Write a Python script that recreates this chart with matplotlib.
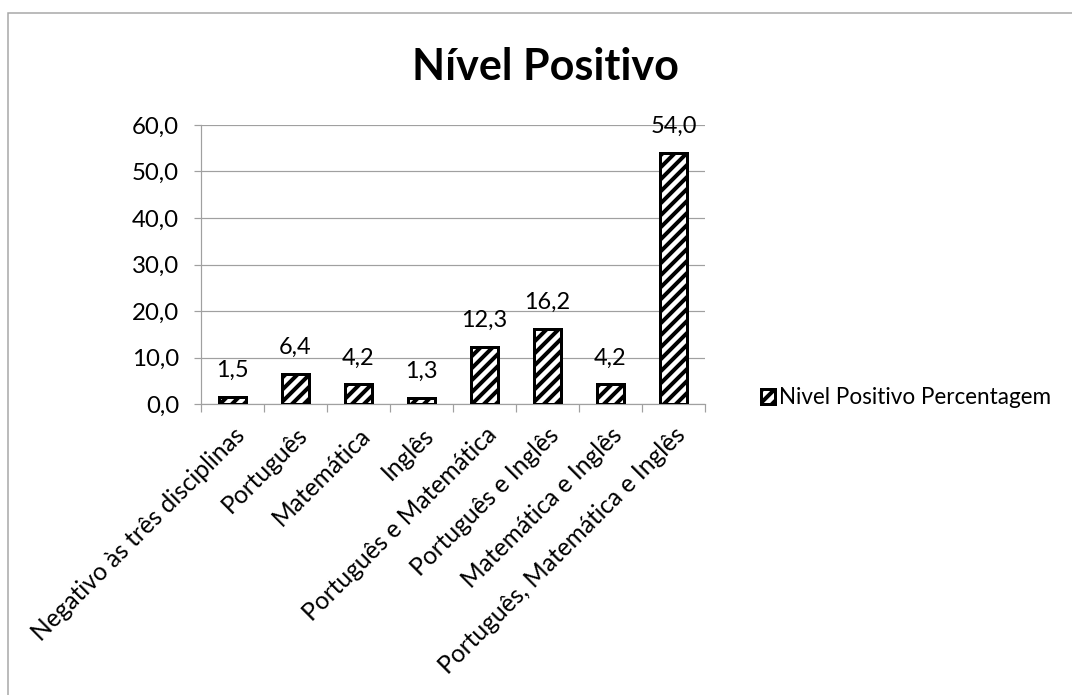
import matplotlib.pyplot as plt
from matplotlib.patches import Rectangle

# categorias e percentagens
categorias = ["Negativo às três disciplinas", "Português", "Matemática", "Inglês",
              "Português e Matemática", "Português e Inglês", "Matemática e Inglês",
              "Português, Matemática e Inglês"]
percentagem = [1.5, 6.4, 4.2, 1.3, 12.3, 16.2, 4.2, 54.0]
y_ticks = [0, 10, 20, 30, 40, 50, 60]

plt.rcParams['font.family'] = ['Lato', 'DejaVu Sans']
plt.rcParams['hatch.linewidth'] = 4.0
plt.rcParams['hatch.color'] = 'black'

W, H = 1072, 695
fig = plt.figure(figsize=(W / 72, H / 72), dpi=72)
ax = fig.add_axes([201 / W, 1 - 404 / H, 504 / W, 279 / H])

# moldura do gráfico
fig.patches.append(Rectangle((8 / W, -0.1), 1.2, 1 - 13 / H + 0.1, transform=fig.transFigure,
                             fill=False, edgecolor='#a6a6a6', linewidth=1.5))

x = range(len(categorias))
barras = ax.bar(x, percentagem, width=0.44, color='white', edgecolor='black',
                linewidth=3, hatch='//', label='Nivel Positivo Percentagem', zorder=3)

for xi, v in zip(x, percentagem):
    ax.annotate(f"{v:.1f}".replace('.', ','), (xi, v), xytext=(0, 16),
                textcoords='offset points', ha='center', va='bottom',
                fontsize=23.5, zorder=4)

ax.set_xlim(-0.5, len(categorias) - 0.5)
ax.set_ylim(0, 60)
ax.set_yticks(y_ticks)
ax.set_yticklabels([f"{t:.1f}".replace('.', ',') for t in y_ticks], fontsize=24)
ax.yaxis.grid(True, color='#a0a0a0', linewidth=1.2, zorder=0)

# marcas do eixo x entre categorias
ax.set_xticks([i - 0.5 for i in range(len(categorias) + 1)])
ax.set_xticklabels([])
ax.set_xticks(list(x), minor=True)
ax.set_xticklabels(categorias, minor=True, rotation=45, ha='right',
                   rotation_mode='anchor', fontsize=24.5)
ax.tick_params(axis='x', which='minor', length=0, pad=19)
ax.tick_params(axis='x', which='major', length=8, color='#a0a0a0', width=1.2)
ax.tick_params(axis='y', length=7, color='#a0a0a0', width=1.2, pad=15)

for s in ['top', 'right']:
    ax.spines[s].set_visible(False)
for s in ['left', 'bottom']:
    ax.spines[s].set_color('#a0a0a0')
    ax.spines[s].set_linewidth(1.2)

ax.set_title("Nível Positivo", fontsize=43, fontweight='bold', x=(545 - 201) / 504, y=1.0, pad=45)

fig.legend(handles=[barras], loc='center left', bbox_to_anchor=(750 / W, 1 - 398 / H),
           frameon=False, fontsize=22.5, handlelength=0.62, handleheight=0.62,
           handletextpad=0.15, borderpad=0)

fig.savefig('out.png', dpi=72)
